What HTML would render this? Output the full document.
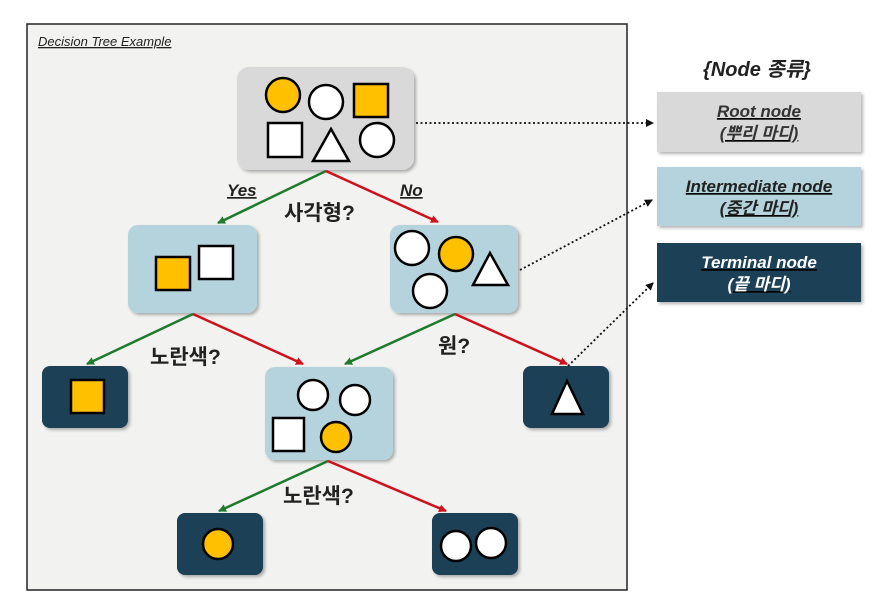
<!DOCTYPE html>
<html><head><meta charset="utf-8"><style>
body{margin:0;background:#fff;}
svg{display:block;}
.k{font-family:"Liberation Sans","Noto Sans CJK KR",sans-serif;font-weight:bold;fill:#222;}
</style></head><body>
<svg width="886" height="605" viewBox="0 0 886 605" xmlns="http://www.w3.org/2000/svg">
<defs>
<marker id="ag" markerWidth="8" markerHeight="8" refX="7" refY="4" orient="auto" markerUnits="userSpaceOnUse"><path d="M0,0 L8,4 L0,8 z" fill="#1e7b2e"/></marker>
<marker id="ar" markerWidth="8" markerHeight="8" refX="7" refY="4" orient="auto" markerUnits="userSpaceOnUse"><path d="M0,0 L8,4 L0,8 z" fill="#d0101a"/></marker>
<marker id="ak" markerWidth="8" markerHeight="8" refX="7" refY="4" orient="auto" markerUnits="userSpaceOnUse"><path d="M0,0 L8,4 L0,8 z" fill="#111"/></marker>
<filter id="sh" x="-10%" y="-10%" width="130%" height="130%"><feDropShadow dx="2" dy="2" stdDeviation="1.5" flood-opacity="0.3"/></filter>
</defs>
<rect x="27" y="24" width="600" height="566" fill="#f2f2f1" stroke="#222" stroke-width="1.5"/>
<text x="38" y="46" font-family="Liberation Sans,sans-serif" font-style="italic" font-size="13" fill="#222" text-decoration="underline">Decision Tree Example</text>

<g filter="url(#sh)">
<rect x="237" y="67" width="177" height="103" rx="12" fill="#d9d9d9"/>
<rect x="128" y="225" width="129" height="88" rx="10" fill="#b4d3dc"/>
<rect x="390" y="225" width="128" height="88" rx="10" fill="#b4d3dc"/>
<rect x="42" y="366" width="86" height="62" rx="8" fill="#1b3f57"/>
<rect x="265" y="367" width="128" height="93" rx="10" fill="#b4d3dc"/>
<rect x="523" y="366" width="86" height="62" rx="8" fill="#1b3f57"/>
<rect x="177" y="513" width="86" height="62" rx="8" fill="#1b3f57"/>
<rect x="432" y="513" width="86" height="62" rx="8" fill="#1b3f57"/>
</g>
<g stroke="#000" stroke-width="2.5">
<circle cx="283" cy="95" r="17" fill="#ffc000"/>
<circle cx="326" cy="102" r="17" fill="#fff"/>
<rect x="354" y="84" width="34" height="33" fill="#ffc000"/>
<rect x="268" y="123" width="34" height="34" fill="#fff"/>
<polygon points="331,129 349,161 313,161" fill="#fff"/>
<circle cx="377" cy="140" r="17" fill="#fff"/>

<rect x="156" y="257" width="34" height="33" fill="#ffc000"/>
<rect x="199" y="246" width="34" height="33" fill="#fff"/>

<circle cx="412" cy="248" r="17" fill="#fff"/>
<circle cx="456" cy="254" r="17" fill="#ffc000"/>
<polygon points="490,253 508,285 473,285" fill="#fff"/>
<circle cx="430" cy="291" r="17" fill="#fff"/>

<rect x="71" y="380" width="33" height="33" fill="#ffc000"/>
<circle cx="313" cy="395" r="15" fill="#fff" transform="translate(0,0)"/>
<circle cx="355" cy="400" r="15" fill="#fff"/>
<rect x="273" y="418" width="31" height="33" fill="#fff"/>
<circle cx="336" cy="437" r="15" fill="#ffc000"/>
<polygon points="567,381 583,414 552,414" fill="#fff"/>
<circle cx="218" cy="544" r="15" fill="#ffc000"/>
<circle cx="456" cy="546" r="15" fill="#fff"/>
<circle cx="491" cy="543" r="15" fill="#fff"/>
</g>

<g stroke-width="2.5">
<line x1="326" y1="171" x2="218" y2="223" stroke="#1e7b2e" marker-end="url(#ag)"/>
<line x1="326" y1="171" x2="438" y2="222" stroke="#d0101a" marker-end="url(#ar)"/>
<line x1="193" y1="314" x2="87" y2="364" stroke="#1e7b2e" marker-end="url(#ag)"/>
<line x1="193" y1="314" x2="303" y2="364" stroke="#d0101a" marker-end="url(#ar)"/>
<line x1="455" y1="314" x2="345" y2="364" stroke="#1e7b2e" marker-end="url(#ag)"/>
<line x1="455" y1="314" x2="567" y2="364" stroke="#d0101a" marker-end="url(#ar)"/>
<line x1="328" y1="461" x2="219" y2="511" stroke="#1e7b2e" marker-end="url(#ag)"/>
<line x1="328" y1="461" x2="446" y2="511" stroke="#d0101a" marker-end="url(#ar)"/>
</g>
<g stroke="#111" stroke-width="1.8" stroke-dasharray="2,2.5" fill="none">
<line x1="416" y1="123" x2="653" y2="123" marker-end="url(#ak)"/>
<line x1="520" y1="270" x2="652" y2="200" marker-end="url(#ak)"/>
<line x1="568" y1="366" x2="653" y2="283" marker-end="url(#ak)"/>
</g>

<text x="227" y="196" font-family="Liberation Sans,sans-serif" font-style="italic" font-weight="bold" font-size="17" fill="#222" text-decoration="underline">Yes</text>
<text x="400" y="196" font-family="Liberation Sans,sans-serif" font-style="italic" font-weight="bold" font-size="17" fill="#222" text-decoration="underline">No</text>
<text x="284" y="220" class="k" font-size="21">사각형?</text>
<text x="150" y="364" class="k" font-size="21">노란색?</text>
<text x="438" y="353" class="k" font-size="21">원?</text>
<text x="283" y="503" class="k" font-size="21">노란색?</text>

<text x="757" y="76" text-anchor="middle" font-family="Liberation Sans,'Noto Sans CJK KR',sans-serif" font-style="italic" font-weight="bold" font-size="20" fill="#222">{Node 종류}</text>
<g filter="url(#sh)">
<rect x="657" y="92" width="204" height="60" fill="#d9d9d9"/>
<rect x="657" y="167" width="204" height="59" fill="#b4d3dc"/>
<rect x="657" y="243" width="204" height="59" fill="#1b3f57"/>
</g>
<g font-family="Liberation Sans,'Noto Sans CJK KR',sans-serif" font-style="italic" font-weight="bold" font-size="17" text-anchor="middle" text-decoration="underline">
<text x="759" y="117" fill="#333">Root node</text>
<text x="759" y="139" fill="#333">(뿌리 마디)</text>
<text x="759" y="192" fill="#222">Intermediate node</text>
<text x="759" y="214" fill="#222">(중간 마디)</text>
<text x="759" y="268" fill="#fff">Terminal node</text>
<text x="759" y="290" fill="#fff">(끝 마디)</text>
</g>
</svg>
</body></html>
